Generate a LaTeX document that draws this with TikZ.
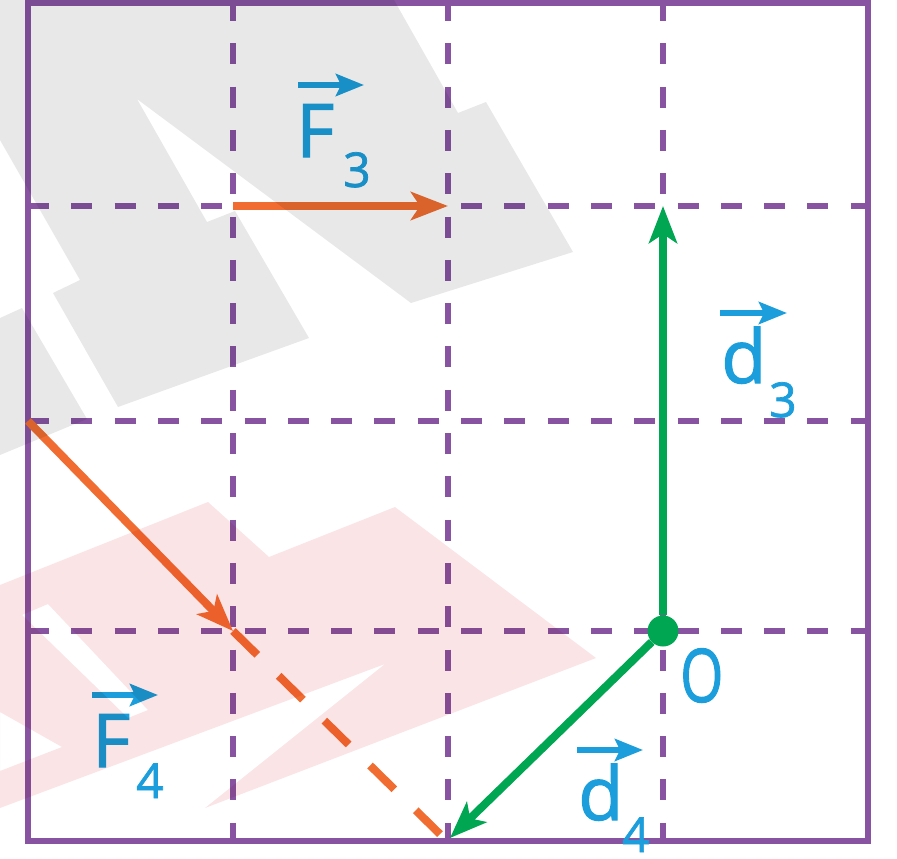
\documentclass[tikz,border=0pt]{standalone}
\usepackage{fontspec}
\setmainfont{Open Sans}
\newfontfamily\lblfont{Open Sans}[FakeBold=1.5]
\usetikzlibrary{arrows.meta}
\definecolor{gridpurple}{RGB}{136,84,162}
\definecolor{vorange}{RGB}{240,108,48}
\definecolor{vgreen}{RGB}{0,166,81}
\definecolor{lblue}{RGB}{27,158,219}
\definecolor{wmgray}{RGB}{232,232,232}
\definecolor{wmpink}{RGB}{250,228,230}
\begin{document}
\begin{tikzpicture}[x=1pt,y=-1pt,
  gridline/.style={gridpurple,line width=5.3pt},
  hdash/.style={gridpurple,line width=5.3pt,dash pattern=on 21pt off 22.3pt},
  vdash/.style={gridpurple,line width=5.3pt,dash pattern=on 21pt off 22.3pt,dash phase=3pt},
  vecline/.style={line width=8pt},
  vhead/.style={-{Stealth[length=37pt,width=28pt,inset=9pt]}},
  bigl/.style={text=lblue,inner sep=0pt,anchor=base west,font=\lblfont\fontsize{74}{74}\selectfont},
  subl/.style={text=lblue,inner sep=0pt,anchor=base west,font=\lblfont\fontsize{48}{48}\selectfont},
  overarrow/.style={lblue,line width=5.5pt,-{Stealth[length=28pt,width=22pt,inset=5pt]}},
]
\useasboundingbox (0,0) rectangle (897,859);

% grid
\draw[gridline] (28,3) rectangle (868,841);
\foreach \yy in {206,421,631} \draw[hdash] (28,\yy) -- (868,\yy);
\foreach \xx in {233,448,663} \draw[vdash] (\xx,3) -- (\xx,841);

% points
\coordinate (F3s) at (233,206);
\coordinate (F3e) at (448,206);
\coordinate (F4s) at (28,421);
\coordinate (F4e) at (233,631);
\coordinate (F4x) at (446,840);
\coordinate (D3e) at (663,206);
\coordinate (D4e) at (450,838);
\node[circle,fill=vgreen,minimum size=31pt,inner sep=0pt] (Odot) at (663,631) {};

% vectors
\draw[vorange,vecline,vhead] (F3s) -- (F3e);
\draw[vorange,vecline,vhead] (F4s) -- (F4e);
\draw[vorange,vecline,dash pattern=on 34pt off 30pt] (F4e) -- (F4x);
\draw[vgreen,vecline,vhead] (Odot) -- (D3e);
\draw[vgreen,vecline,vhead] (Odot) -- (D4e);

% labels
\node[bigl] (F3) at (296,157) {F};
\node[subl] (F3i) at (343,187) {3};
\draw[overarrow] (298,85) -- (364,85);

\node[bigl] (d3) at (721,383) {d};
\node[subl] (d3i) at (769,417) {3};
\draw[overarrow] (720,313) -- (787,313);

\node[bigl] (F4) at (92,767) {F};
\node[subl] (F4i) at (136,798) {4};
\draw[overarrow] (92,695) -- (158,695);

\node[bigl] (d4) at (578,820) {d};
\node[subl] (d4i) at (622,852) {4};
\draw[overarrow] (577,750) -- (643,750);

\node[bigl] (Olbl) at (680,702) {\scalebox{0.75}[1]{O}};

% watermark
\begin{scope}[blend mode=multiply]
\fill[wmgray] (0,0) -- (394,0) -- (458,113) -- (486,102) -- (573,252) -- (411,303)
  -- (137,99) -- (207,222) -- (235,211) -- (309,338) -- (118,407) -- (53,293)
  -- (80,280) -- (0,140) -- cycle;
\fill[wmgray] (0,318) -- (22,308) -- (87,419) -- (0,455) -- cycle;
\fill[wmpink,even odd rule] (0,585) -- (208,502) -- (269,557) -- (395,507) -- (596,658)
  -- (205,808) -- (385,664) -- (0,808) -- cycle
  (22,615) -- (48,604) -- (148,710) -- (128,718) -- cycle
  (0,712) -- (62,747) -- (0,771) -- cycle;
\end{scope}
\end{tikzpicture}
\end{document}
